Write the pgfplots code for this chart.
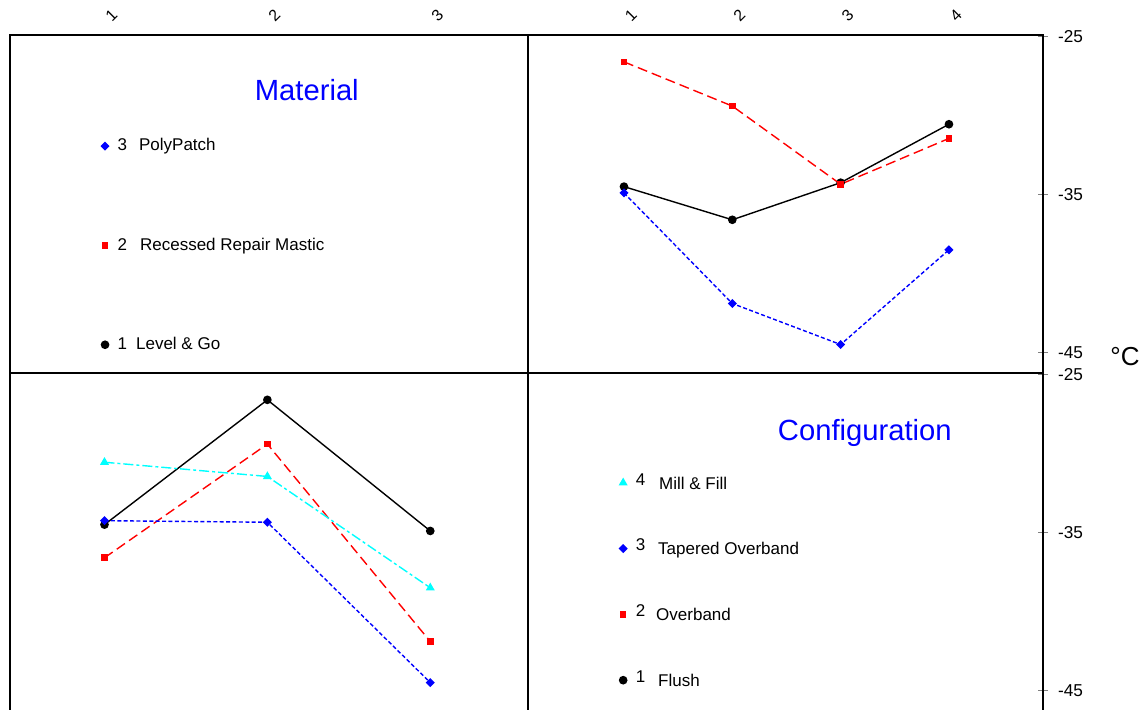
\documentclass[border=0pt]{standalone}
\usepackage{fontspec}
\setmainfont{Liberation Sans}
\usepackage{pgfplots}
\usepackage{pgfplotstable}
\pgfplotsset{compat=1.18}
\definecolor{pcyan}{RGB}{0,255,255}
\definecolor{pred}{RGB}{255,0,0}
\definecolor{pblue}{RGB}{0,0,255}

\pgfplotstableread{
c m1 m2 m3
1 -34.5 -26.6 -34.9
2 -36.6 -29.4 -41.9
3 -34.25 -34.35 -44.5
4 -30.55 -31.45 -38.5
}\byconfig

\pgfplotstableread{
m c1 c2 c3 c4
1 -34.5 -36.6 -34.25 -30.55
2 -26.6 -29.4 -34.35 -31.45
3 -34.9 -41.9 -44.5 -38.5
}\bymaterial

\pgfplotsset{
  panel/.style={scale only axis, height=169pt, ymin=-46.3, ymax=-24.9,
    axis line style={line width=0.6pt},
    xtick style={draw=none}, ytick style={line width=0.6pt},
    tick align=center, major tick length=5pt,
    xticklabel style={font=\fontsize{8}{9}\selectfont, anchor=center, xshift=3.5pt, yshift=7.5pt, rotate=45},
    yticklabel style={font=\fontsize{8.6}{10}\selectfont, xshift=1.5pt},
    legend cell align=left,
    legend image code/.code={\draw[##1] plot[only marks] coordinates {(2pt,0pt)};},
  },
  leftp/.style={panel, width=259pt, xmin=0.42, xmax=3.6, ytick=\empty},
  rightp/.style={panel, width=257.5pt, xmin=0.114, xmax=4.868,
    ytick={-45,-35,-25}, yticklabels={-45,-35,-25}, ytick pos=right, yticklabel pos=right},
  s1/.style={black, solid, line width=0.7pt, mark=*, mark size=1.8pt},
  s2/.style={pred, dash pattern=on 5pt off 2.5pt, line width=0.7pt, mark=square*, mark size=1.3pt, mark options={solid}},
  s3/.style={pblue, dash pattern=on 2pt off 1.2pt, line width=0.7pt, mark=square*, mark size=1.25pt, mark options={solid, rotate=45}},
  s4/.style={pcyan, dash pattern=on 5pt off 1.5pt on 1.5pt off 1.5pt, line width=0.7pt, mark=triangle*, mark size=1.9pt, mark options={solid}},
}

\begin{document}
\begin{tikzpicture}
\useasboundingbox (0,0) rectangle (573pt,-355pt);

% top-left: Material legend panel
\begin{axis}[leftp, at={(5pt,-17.5pt)}, anchor=north west,
  xtick={1,2,3}, xticklabels={1,2,3}, xticklabel pos=upper]
  \node[text=pblue, font=\fontsize{14.6}{16}\selectfont] at (rel axis cs:0.573,0.837) {Material};
\end{axis}

% top-right: lines for materials over configuration
\begin{axis}[rightp, at={(264pt,-17.5pt)}, anchor=north west,
  xtick={1,2,3,4}, xticklabels={1,2,3,4}, xticklabel pos=upper,
  reverse legend,
  legend style={at={(-0.829,0.701)}, anchor=north west, draw=none, fill=none,
    inner sep=0pt, row sep=40pt, font=\fontsize{8.5}{10}\selectfont,
    nodes={inner sep=1pt}}]
  \addplot[s1] table[x=c, y=m1] {\byconfig};
  \addlegendentry{\hspace{3.5pt}1\hspace{4.5pt}Level \& Go}
  \addplot[s2] table[x=c, y=m2] {\byconfig};
  \addlegendentry{\hspace{3.5pt}2\hspace{6.5pt}Recessed Repair Mastic}
  \addplot[s3] table[x=c, y=m3] {\byconfig};
  \addlegendentry{\hspace{3.5pt}3\hspace{6pt}PolyPatch}
\end{axis}

% bottom-left: lines for configurations over material
\begin{axis}[leftp, at={(5pt,-186.5pt)}, anchor=north west,
  xtick={1,2,3}, xticklabels={},
  reverse legend,
  legend style={at={(1.176,0.710)}, anchor=north west, draw=none, fill=none,
    inner sep=0pt, row sep=21.5pt, font=\fontsize{8.5}{10}\selectfont,
    nodes={inner sep=1pt}}]
  \addplot[s1] table[x=m, y=c1] {\bymaterial};
  \addlegendentry{\hspace{3.5pt}\raisebox{2pt}{1}\hspace{6.5pt}Flush}
  \addplot[s2] table[x=m, y=c2] {\bymaterial};
  \addlegendentry{\hspace{3.5pt}\raisebox{2pt}{2}\hspace{5.5pt}Overband}
  \addplot[s3] table[x=m, y=c3] {\bymaterial};
  \addlegendentry{\hspace{3.5pt}\raisebox{2pt}{3}\hspace{6.5pt}Tapered Overband}
  \addplot[s4] table[x=m, y=c4] {\bymaterial};
  \addlegendentry{\hspace{3.5pt}\raisebox{2pt}{4}\hspace{7pt}Mill \& Fill}
\end{axis}

% bottom-right: Configuration legend panel
\begin{axis}[rightp, at={(264pt,-186.5pt)}, anchor=north west,
  xtick={1,2,3,4}, xticklabels={}]
  \node[text=pblue, font=\fontsize{14.6}{16}\selectfont] at (rel axis cs:0.654,0.822) {Configuration};
\end{axis}

\node[font=\fontsize{13}{15}\selectfont] at (562.5pt,-178.5pt) {°C};
\end{tikzpicture}
\end{document}
